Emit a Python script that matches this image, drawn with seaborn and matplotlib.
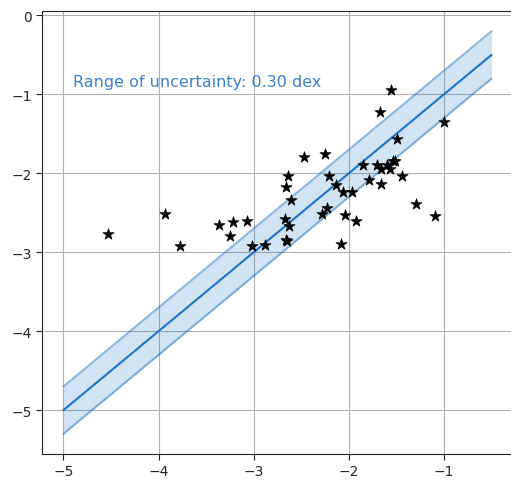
import numpy as np
import pandas as pd
import matplotlib
matplotlib.use("Agg")
import matplotlib.pyplot as plt
import seaborn as sns

sns.set_style("ticks", {"axes.grid": True, "grid.color": "#b0b0b0", "axes.edgecolor": "#222222"})

# observed points (log values)
obs_x = [-4.53, -3.93, -3.77, -3.37, -3.22, -3.25, -3.07, -3.02, -2.88,
         -2.64, -2.66, -2.61, -2.67, -2.63, -2.66, -2.65,
         -2.47, -2.25, -2.21, -2.13, -2.06, -1.97, -2.28, -2.23, -2.04, -1.92, -2.08,
         -1.56, -1.67, -1.00, -1.49, -1.85, -1.70, -1.60, -1.54, -1.52, -1.57, -1.66,
         -1.79, -1.66, -1.44, -1.29, -1.10]
obs_y = [-2.77, -2.52, -2.92, -2.65, -2.62, -2.80, -2.60, -2.92, -2.91,
         -2.04, -2.18, -2.34, -2.58, -2.67, -2.84, -2.86,
         -1.80, -1.76, -2.03, -2.15, -2.24, -2.24, -2.51, -2.44, -2.53, -2.61, -2.89,
         -0.94, -1.22, -1.35, -1.57, -1.90, -1.90, -1.90, -1.85, -1.84, -1.94, -1.94,
         -2.09, -2.13, -2.04, -2.39, -2.54]

# one-to-one line and uncertainty
line_x = [-5.0, -0.5]
line_y = [-5.0, -0.5]
dex = 0.30

df_pts = pd.DataFrame({"x": obs_x, "y": obs_y})
df_line = pd.DataFrame({"x": line_x, "y": line_y})
df_line["lo"] = df_line["y"] - dex
df_line["hi"] = df_line["y"] + dex

blue = "#1f74c4"

fig = plt.figure(figsize=(5.11, 4.81), dpi=100)
ax = fig.add_axes([42 / 511, 26 / 481, 471 / 511, 443 / 481])

sns.lineplot(data=df_line, x="x", y="y", color=blue, lw=1.5, ax=ax)
ax.fill_between(df_line["x"], df_line["lo"], df_line["hi"], color=blue, alpha=0.2, lw=0)
sns.lineplot(data=df_line, x="x", y="lo", color=blue, alpha=0.5, lw=1.5, ax=ax)
sns.lineplot(data=df_line, x="x", y="hi", color=blue, alpha=0.5, lw=1.5, ax=ax)
sns.scatterplot(data=df_pts, x="x", y="y", marker="*", s=70, color="black",
                edgecolor="black", linewidth=0.5, zorder=3, ax=ax)

ax.text(-4.9, -0.84, "Range of uncertainty: %.2f dex" % dex, color="#3a82cc",
        fontsize=11.5, va="center")

ax.set_xlim(-5.225, -0.275)
ax.set_ylim(-5.555, 0.055)
ax.set_xlabel("")
ax.set_ylabel("")
ax.tick_params(labelsize=10, length=4, color="#222222")

fig.savefig("out.png", dpi=100)
